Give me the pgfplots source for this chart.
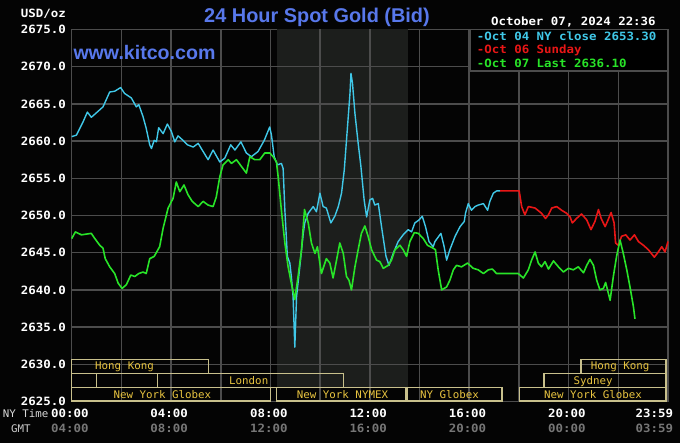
\documentclass[border=0pt]{standalone}
\usepackage{pgfplots}
\pgfplotsset{compat=1.18}
\usepackage{fontspec}
\setmainfont{Liberation Sans}
\newfontfamily\labfont[FakeStretch=1.09]{DejaVu Sans Mono}
\newfontfamily\sessfont[FakeStretch=1.03]{DejaVu Sans Mono}
\newcommand\lab{\labfont\bfseries\fontsize{11.4pt}{13pt}\selectfont}
\newcommand\sess{\sessfont\fontsize{10.5pt}{12pt}\selectfont}
\definecolor{bgc}{RGB}{4,4,4}
\definecolor{gridc}{RGB}{76,76,76}
\definecolor{shadec}{RGB}{28,30,28}
\definecolor{cyanc}{RGB}{64,200,232}
\definecolor{redc}{RGB}{232,22,22}
\definecolor{greenc}{RGB}{40,228,40}
\definecolor{titleblue}{RGB}{88,120,235}
\definecolor{sesstext}{RGB}{232,196,64}
\definecolor{sessbox}{RGB}{200,192,140}
\definecolor{gmtgray}{RGB}{118,118,118}
\begin{document}
\begin{tikzpicture}
\path[use as bounding box] (0pt,0pt) rectangle (680pt,443pt);
\fill[bgc] (0pt,0pt) rectangle (680pt,443pt);
\begin{axis}[
  at={(71.7pt,41.5pt)}, anchor=south west,
  scale only axis, width=596.3pt, height=372pt,
  xmin=0, xmax=24, ymin=2625, ymax=2675,
  axis line style={draw=gridc, line width=1.5pt},
  xtick=\empty,
  ytick={2625,2630,...,2675},
  yticklabels={2625.0,2630.0,2635.0,2640.0,2645.0,2650.0,2655.0,2660.0,2665.0,2670.0,2675.0},
  major tick length=0pt,
  yticklabel style={font=\lab, text=white, anchor=east, inner sep=0pt, xshift=-5.7pt},
  clip=false,
]
% NYMEX shaded session
\fill[shadec] (axis cs:8.25,2626.85) rectangle (axis cs:13.54,2675);
% grid
\pgfplotsinvokeforeach{2,4,...,22}{\draw[gridc,line width=1.5pt] (axis cs:#1,2625) -- (axis cs:#1,2675);}
\pgfplotsinvokeforeach{2630,2635,...,2670}{\draw[gridc,line width=1.5pt] (axis cs:0,#1) -- (axis cs:24,#1);}
% session boxes
\draw[sessbox,line width=1.5pt] (axis cs:0,2628.79) rectangle (axis cs:5.5,2630.67);
\draw[sessbox,line width=1.5pt] (axis cs:20.5,2628.79) rectangle (axis cs:23.92,2630.67);
\draw[sessbox,line width=1.5pt] (axis cs:0,2626.85) rectangle (axis cs:1.0,2628.79);
\draw[sessbox,line width=1.5pt] (axis cs:3.46,2626.85) rectangle (axis cs:10.94,2628.79);
\draw[sessbox,line width=1.5pt] (axis cs:19.0,2626.85) rectangle (axis cs:23.92,2628.79);
\draw[sessbox,line width=1.5pt] (axis cs:0,2625.07) rectangle (axis cs:8.0,2626.85);
\draw[sessbox,line width=1.5pt] (axis cs:8.25,2625.07) rectangle (axis cs:13.43,2626.85);
\draw[sessbox,line width=1.5pt] (axis cs:13.5,2625.07) rectangle (axis cs:17.32,2626.85);
\draw[sessbox,line width=1.5pt] (axis cs:18.02,2625.07) rectangle (axis cs:23.92,2626.85);
% Oct 04 NY close (cyan)
\addplot[cyanc, line width=1.4pt, line join=round] coordinates {
(0.00,2660.6)(0.19,2660.8)(0.46,2662.6)(0.63,2663.9)(0.79,2663.2)(1.06,2664.0)(1.26,2664.6)(1.53,2666.6)(1.73,2666.7)(1.97,2667.2)(2.13,2666.4)(2.40,2665.8)(2.60,2664.6)(2.70,2664.9)(2.87,2663.3)(3.00,2661.7)(3.14,2659.5)(3.21,2659.0)(3.32,2660.1)(3.41,2659.9)(3.50,2661.8)(3.68,2661.0)(3.85,2662.3)(4.01,2661.3)(4.15,2659.9)(4.28,2660.7)(4.48,2660.1)(4.66,2659.5)(4.89,2659.2)(5.09,2659.7)(5.29,2658.6)(5.49,2657.5)(5.69,2658.8)(5.96,2657.2)(6.16,2657.7)(6.40,2659.5)(6.57,2658.8)(6.81,2659.9)(7.03,2658.4)(7.23,2657.9)(7.50,2658.6)(7.75,2660.1)(7.97,2661.9)(8.04,2660.8)(8.15,2657.9)(8.28,2656.8)(8.44,2657.0)(8.51,2656.3)(8.58,2650.7)(8.68,2644.5)(8.78,2643.6)(8.84,2641.8)(8.91,2639.1)(8.98,2632.3)(9.05,2639.1)(9.18,2643.1)(9.32,2647.6)(9.38,2649.0)(9.52,2650.3)(9.72,2651.2)(9.85,2650.5)(9.99,2653.0)(10.12,2651.2)(10.25,2651.0)(10.43,2649.0)(10.59,2649.9)(10.73,2651.2)(10.86,2653.0)(10.97,2656.1)(11.10,2661.9)(11.20,2666.4)(11.24,2669.1)(11.30,2667.8)(11.40,2663.7)(11.53,2659.7)(11.64,2656.6)(11.77,2652.1)(11.87,2649.8)(12.00,2652.1)(12.11,2652.3)(12.20,2651.4)(12.34,2651.6)(12.47,2648.5)(12.65,2644.5)(12.77,2643.3)(12.94,2644.9)(13.14,2646.5)(13.34,2647.4)(13.54,2648.1)(13.68,2647.8)(13.81,2649.0)(13.98,2649.4)(14.11,2649.9)(14.24,2648.5)(14.38,2646.5)(14.55,2645.8)(14.62,2646.5)(14.86,2647.6)(14.99,2645.8)(15.09,2644.0)(15.22,2645.4)(15.43,2647.2)(15.63,2648.5)(15.80,2649.2)(15.85,2650.3)(15.96,2651.6)(16.09,2650.7)(16.23,2651.2)(16.36,2651.4)(16.57,2651.6)(16.74,2650.7)(16.83,2651.9)(16.97,2653.0)(17.10,2653.3)(17.24,2653.3)
};
% Oct 06 Sunday (red)
\addplot[redc, line width=1.6pt, line join=round] coordinates {
(17.24,2653.3)(18.01,2653.3)(18.11,2651.2)(18.24,2650.1)(18.38,2651.2)(18.65,2651.0)(18.91,2650.3)(19.07,2649.6)(19.19,2650.1)(19.32,2651.0)(19.52,2651.2)(19.72,2650.7)(19.92,2650.3)(20.06,2649.8)(20.15,2649.0)(20.32,2649.6)(20.52,2650.2)(20.73,2649.4)(20.90,2648.1)(21.06,2649.2)(21.20,2650.8)(21.31,2649.6)(21.47,2648.5)(21.60,2649.5)(21.71,2650.4)(21.83,2649.0)(21.89,2646.3)(22.00,2646.0)(22.13,2647.2)(22.30,2647.4)(22.47,2646.7)(22.65,2647.4)(22.81,2646.5)(23.01,2646.0)(23.21,2645.4)(23.45,2644.4)(23.61,2645.1)(23.75,2645.8)(23.88,2645.1)(24.00,2646.5)
};
% Oct 07 Last (green)
\addplot[greenc, line width=1.6pt, line join=round] coordinates {
(0.00,2646.9)(0.15,2647.8)(0.39,2647.4)(0.59,2647.5)(0.79,2647.6)(0.93,2646.9)(1.13,2646.0)(1.26,2645.6)(1.35,2644.2)(1.53,2643.1)(1.73,2642.2)(1.87,2640.9)(2.03,2640.2)(2.20,2640.7)(2.38,2642.0)(2.54,2641.8)(2.70,2642.2)(2.87,2642.4)(3.00,2642.2)(3.14,2644.2)(3.32,2644.5)(3.54,2645.8)(3.68,2648.3)(3.88,2651.0)(4.08,2652.3)(4.21,2654.5)(4.35,2653.2)(4.52,2654.1)(4.68,2652.8)(4.85,2651.9)(5.09,2651.2)(5.29,2651.9)(5.49,2651.4)(5.69,2651.2)(5.82,2652.5)(5.96,2655.2)(6.09,2656.8)(6.30,2657.5)(6.43,2657.0)(6.63,2657.5)(6.83,2656.6)(7.03,2655.7)(7.17,2657.9)(7.37,2657.5)(7.57,2657.5)(7.77,2658.4)(7.97,2658.4)(8.11,2657.9)(8.24,2657.2)(8.31,2655.2)(8.44,2650.7)(8.58,2646.3)(8.71,2643.1)(8.84,2640.9)(8.98,2638.7)(9.11,2641.8)(9.25,2645.4)(9.37,2650.8)(9.52,2649.0)(9.65,2646.3)(9.79,2644.9)(9.89,2645.8)(10.05,2642.2)(10.25,2644.2)(10.39,2643.6)(10.52,2641.6)(10.66,2644.0)(10.79,2646.3)(10.93,2644.9)(11.06,2641.8)(11.16,2641.3)(11.26,2640.0)(11.40,2643.1)(11.53,2645.4)(11.66,2647.6)(11.80,2648.6)(11.93,2647.2)(12.07,2645.4)(12.27,2644.0)(12.40,2643.8)(12.54,2642.9)(12.74,2643.3)(12.87,2644.0)(13.01,2645.4)(13.21,2646.0)(13.34,2645.4)(13.48,2644.5)(13.61,2646.5)(13.79,2647.7)(13.95,2647.6)(14.15,2646.9)(14.32,2646.0)(14.55,2645.6)(14.64,2645.4)(14.75,2642.7)(14.89,2640.0)(15.09,2640.4)(15.22,2641.3)(15.36,2642.7)(15.49,2643.3)(15.69,2643.1)(15.93,2643.6)(16.16,2642.9)(16.36,2642.7)(16.57,2642.2)(16.77,2642.7)(16.93,2642.8)(17.10,2642.2)(17.97,2642.2)(18.18,2641.6)(18.38,2642.7)(18.51,2644.0)(18.65,2645.1)(18.78,2643.6)(18.91,2643.1)(19.05,2643.8)(19.19,2642.8)(19.39,2643.9)(19.59,2643.1)(19.79,2642.4)(19.99,2642.9)(20.19,2642.7)(20.39,2643.1)(20.60,2642.3)(20.73,2643.3)(20.86,2644.1)(21.00,2643.3)(21.13,2641.3)(21.26,2640.0)(21.40,2640.2)(21.49,2641.0)(21.67,2638.6)(21.80,2641.8)(21.93,2644.5)(22.07,2646.7)(22.20,2644.9)(22.34,2642.7)(22.47,2640.4)(22.61,2637.7)(22.67,2636.1)
};
\end{axis}
% legend box
\fill[black] (470pt,372pt) rectangle (668pt,413.5pt);
\draw[gridc,line width=1.5pt] (470pt,372pt) rectangle (668pt,413.5pt);
\node[anchor=base west,inner sep=0pt,text=cyanc] at (476.7pt,402.7pt) {\lab -Oct 04 NY close 2653.30};
\node[anchor=base west,inner sep=0pt,text=redc] at (476.7pt,389pt) {\lab -Oct 06 Sunday};
\node[anchor=base west,inner sep=0pt,text=greenc] at (476.7pt,375.7pt) {\lab -Oct 07 Last 2636.10};
% title, date, units, watermark
\node[anchor=base,inner sep=0pt,text=titleblue] at (317pt,420pt) {\bfseries\fontsize{19.9pt}{23pt}\selectfont 24 Hour Spot Gold (Bid)};
\node[anchor=base,inner sep=0pt,text=white] at (573.4pt,417.7pt) {\lab October 07, 2024 22:36};
\node[anchor=base east,inner sep=0pt,text=white] at (66pt,425.3pt) {\lab USD/oz};
\node[anchor=base west,inner sep=0pt,text=titleblue] at (73.3pt,383.7pt) {\bfseries\fontsize{19.6pt}{22pt}\selectfont www.kitco.com};
% session labels
\node[anchor=base west,inner sep=0pt,text=sesstext] at (95pt,73pt) {\sess Hong Kong};
\node[anchor=base west,inner sep=0pt,text=sesstext] at (590.7pt,73pt) {\sess Hong Kong};
\node[anchor=base west,inner sep=0pt,text=sesstext] at (229pt,58.7pt) {\sess London};
\node[anchor=base west,inner sep=0pt,text=sesstext] at (573.3pt,58.7pt) {\sess Sydney};
\node[anchor=base west,inner sep=0pt,text=sesstext] at (113.3pt,44.7pt) {\sess New York Globex};
\node[anchor=base west,inner sep=0pt,text=sesstext] at (296.7pt,44.7pt) {\sess New York NYMEX};
\node[anchor=base west,inner sep=0pt,text=sesstext] at (420pt,44.7pt) {\sess NY Globex};
\node[anchor=base west,inner sep=0pt,text=sesstext] at (544pt,44.7pt) {\sess New York Globex};
% time axis labels
\node[anchor=base west,inner sep=0pt,text=white!85!black] at (2.7pt,25pt) {\sess NY Time};
\node[anchor=base west,inner sep=0pt,text=white!80!black] at (11pt,10.3pt) {\sess GMT};
\node[anchor=base,inner sep=0pt,text=white] at (69.9pt,25.5pt) {\lab 00:00};
\node[anchor=base,inner sep=0pt,text=white] at (169.2pt,25.5pt) {\lab 04:00};
\node[anchor=base,inner sep=0pt,text=white] at (268.8pt,25.5pt) {\lab 08:00};
\node[anchor=base,inner sep=0pt,text=white] at (368.2pt,25.5pt) {\lab 12:00};
\node[anchor=base,inner sep=0pt,text=white] at (467.5pt,25.5pt) {\lab 16:00};
\node[anchor=base,inner sep=0pt,text=white] at (566.8pt,25.5pt) {\lab 20:00};
\node[anchor=base east,inner sep=0pt,text=white] at (673.3pt,25.5pt) {\lab 23:59};
\node[anchor=base,inner sep=0pt,text=gmtgray] at (69.9pt,10.5pt) {\lab 04:00};
\node[anchor=base,inner sep=0pt,text=gmtgray] at (169.2pt,10.5pt) {\lab 08:00};
\node[anchor=base,inner sep=0pt,text=gmtgray] at (268.8pt,10.5pt) {\lab 12:00};
\node[anchor=base,inner sep=0pt,text=gmtgray] at (368.2pt,10.5pt) {\lab 16:00};
\node[anchor=base,inner sep=0pt,text=gmtgray] at (467.5pt,10.5pt) {\lab 20:00};
\node[anchor=base,inner sep=0pt,text=gmtgray] at (566.8pt,10.5pt) {\lab 00:00};
\node[anchor=base east,inner sep=0pt,text=gmtgray] at (673.3pt,10.5pt) {\lab 03:59};
\end{tikzpicture}
\end{document}
